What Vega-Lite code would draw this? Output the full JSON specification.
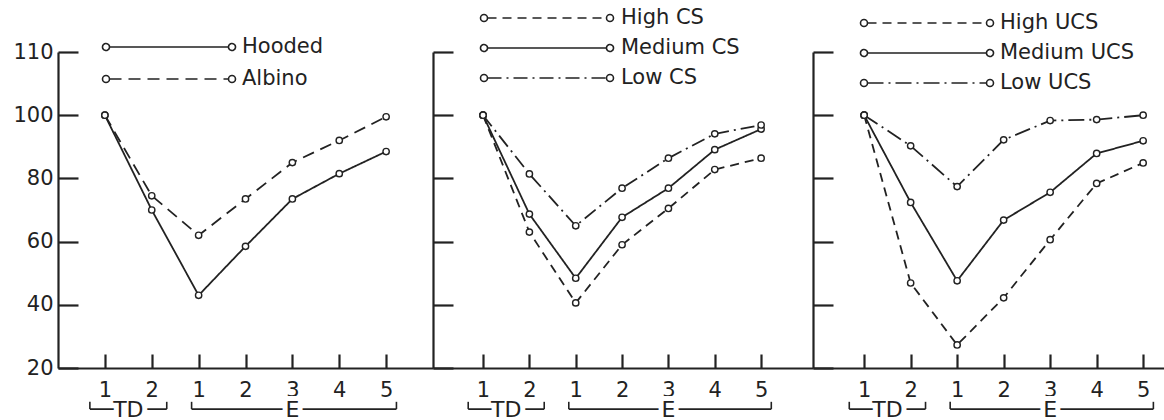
{
  "$schema": "https://vega.github.io/schema/vega-lite/v6.json",
  "padding": {"left": 12, "top": 7, "right": 0, "bottom": 0},
  "spacing": 0,
  "bounds": "flush",
  "resolve": {"scale": {"strokeDash": "independent", "x": "independent", "y": "independent"}, "legend": {"strokeDash": "independent"}},
  "config": {
    "view": {"stroke": null},
    "font": "DejaVu Sans",
    "axis": {"grid": false, "domainColor": "#222", "domainWidth": 2.2, "tickColor": "#222", "tickWidth": 2.2, "labelColor": "#222", "labelFont": "DejaVu Sans", "labelFontSize": 21},
    "legend": {
      "orient": "none", "title": null, "padding": 0,
      "symbolType": "M-6.65,0A0.35,0.35 0 0,1 -6.3,-0.35M-6.3,-0.35A0.35,0.35 0 0,1 -5.95,0M-5.95,0A0.35,0.35 0 0,1 -6.3,0.35M-6.3,0.35A0.35,0.35 0 0,1 -6.65,0M5.95,0A0.35,0.35 0 0,1 6.3,-0.35M6.3,-0.35A0.35,0.35 0 0,1 6.65,0M6.65,0A0.35,0.35 0 0,1 6.3,0.35M6.3,0.35A0.35,0.35 0 0,1 5.95,0M-5.95,0L5.95,0",
      "symbolSize": 400, "symbolStrokeWidth": 1.6, "symbolStrokeColor": "#222", "symbolFillColor": "white",
      "labelFont": "DejaVu Sans", "labelFontSize": 21, "labelColor": "#222", "labelOffset": 62
    }
  },
  "datasets": {
    "curves": [
      {"panel": "A", "series": "Hooded", "pos": 1, "value": 100},
      {"panel": "A", "series": "Hooded", "pos": 2, "value": 70},
      {"panel": "A", "series": "Hooded", "pos": 3, "value": 43},
      {"panel": "A", "series": "Hooded", "pos": 4, "value": 58.5},
      {"panel": "A", "series": "Hooded", "pos": 5, "value": 73.5},
      {"panel": "A", "series": "Hooded", "pos": 6, "value": 81.5},
      {"panel": "A", "series": "Hooded", "pos": 7, "value": 88.5},
      {"panel": "A", "series": "Albino", "pos": 1, "value": 100},
      {"panel": "A", "series": "Albino", "pos": 2, "value": 74.5},
      {"panel": "A", "series": "Albino", "pos": 3, "value": 62},
      {"panel": "A", "series": "Albino", "pos": 4, "value": 73.5},
      {"panel": "A", "series": "Albino", "pos": 5, "value": 85},
      {"panel": "A", "series": "Albino", "pos": 6, "value": 92},
      {"panel": "A", "series": "Albino", "pos": 7, "value": 99.5},
      {"panel": "B", "series": "High CS", "pos": 1, "value": 100},
      {"panel": "B", "series": "High CS", "pos": 2, "value": 63},
      {"panel": "B", "series": "High CS", "pos": 3, "value": 40.6},
      {"panel": "B", "series": "High CS", "pos": 4, "value": 59},
      {"panel": "B", "series": "High CS", "pos": 5, "value": 70.5},
      {"panel": "B", "series": "High CS", "pos": 6, "value": 82.8},
      {"panel": "B", "series": "High CS", "pos": 7, "value": 86.4},
      {"panel": "B", "series": "Medium CS", "pos": 1, "value": 100},
      {"panel": "B", "series": "Medium CS", "pos": 2, "value": 68.7},
      {"panel": "B", "series": "Medium CS", "pos": 3, "value": 48.4},
      {"panel": "B", "series": "Medium CS", "pos": 4, "value": 67.7},
      {"panel": "B", "series": "Medium CS", "pos": 5, "value": 76.9},
      {"panel": "B", "series": "Medium CS", "pos": 6, "value": 89.1},
      {"panel": "B", "series": "Medium CS", "pos": 7, "value": 95.6},
      {"panel": "B", "series": "Low CS", "pos": 1, "value": 100},
      {"panel": "B", "series": "Low CS", "pos": 2, "value": 81.4},
      {"panel": "B", "series": "Low CS", "pos": 3, "value": 65},
      {"panel": "B", "series": "Low CS", "pos": 4, "value": 76.9},
      {"panel": "B", "series": "Low CS", "pos": 5, "value": 86.4},
      {"panel": "B", "series": "Low CS", "pos": 6, "value": 94.1},
      {"panel": "B", "series": "Low CS", "pos": 7, "value": 96.9},
      {"panel": "C", "series": "High UCS", "pos": 1, "value": 100},
      {"panel": "C", "series": "High UCS", "pos": 2, "value": 46.9},
      {"panel": "C", "series": "High UCS", "pos": 3, "value": 27.3},
      {"panel": "C", "series": "High UCS", "pos": 4, "value": 42.2},
      {"panel": "C", "series": "High UCS", "pos": 5, "value": 60.6},
      {"panel": "C", "series": "High UCS", "pos": 6, "value": 78.4},
      {"panel": "C", "series": "High UCS", "pos": 7, "value": 84.9},
      {"panel": "C", "series": "Medium UCS", "pos": 1, "value": 100},
      {"panel": "C", "series": "Medium UCS", "pos": 2, "value": 72.4},
      {"panel": "C", "series": "Medium UCS", "pos": 3, "value": 47.6},
      {"panel": "C", "series": "Medium UCS", "pos": 4, "value": 66.8},
      {"panel": "C", "series": "Medium UCS", "pos": 5, "value": 75.6},
      {"panel": "C", "series": "Medium UCS", "pos": 6, "value": 87.9},
      {"panel": "C", "series": "Medium UCS", "pos": 7, "value": 91.9},
      {"panel": "C", "series": "Low UCS", "pos": 1, "value": 100},
      {"panel": "C", "series": "Low UCS", "pos": 2, "value": 90.3},
      {"panel": "C", "series": "Low UCS", "pos": 3, "value": 77.4},
      {"panel": "C", "series": "Low UCS", "pos": 4, "value": 92.2},
      {"panel": "C", "series": "Low UCS", "pos": 5, "value": 98.3},
      {"panel": "C", "series": "Low UCS", "pos": 6, "value": 98.6},
      {"panel": "C", "series": "Low UCS", "pos": 7, "value": 100}
    ],
    "brackets": [
      {"group": "TD", "start": 0.68, "end": 2.32, "mid": 1.5},
      {"group": "E", "start": 2.85, "end": 7.22, "mid": 5}
    ]
  },
  "hconcat": [
    {
      "width": 375, "height": 316,
      "layer": [
        {
          "data": {"name": "curves"}, "transform": [{"filter": "datum.panel == 'A'"}],
          "mark": {"type": "line", "stroke": "#222", "strokeWidth": 1.8},
          "encoding": {
            "x": {"field": "pos", "type": "quantitative", "scale": {"domain": [0, 8], "nice": false, "zero": false},
                  "axis": {"title": null, "values": [1, 2, 3, 4, 5, 6, 7], "tickSize": -14, "labelPadding": 25, "labelExpr": "datum.value <= 2 ? datum.value : datum.value - 2"}},
            "y": {"field": "value", "type": "quantitative", "scale": {"domain": [20, 120], "nice": false, "zero": false},
                  "axis": {"title": null, "values": [20, 30, 40, 50, 60, 70, 80, 90, 100, 110, 120], "tickSize": -20, "labelPadding": 25, "labelExpr": "datum.value == 120 ? '110' : (datum.value % 20 == 0 ? datum.label : '')"}},
            "strokeDash": {"field": "series", "type": "nominal", "scale": {"domain": ["Hooded", "Albino"], "range": [[1, 0], [12, 7]]},
                           "legend": {"legendX": 100, "legendY": -16, "rowPadding": 11}}
          }
        },
        {
          "data": {"name": "curves"}, "transform": [{"filter": "datum.panel == 'A'"}],
          "mark": {"type": "point", "shape": "circle", "filled": true, "fill": "white", "stroke": "#222", "strokeWidth": 1.4, "size": 40, "opacity": 1},
          "encoding": {"x": {"field": "pos", "type": "quantitative"}, "y": {"field": "value", "type": "quantitative"}, "detail": {"field": "series"}}
        },
        {
          "data": {"name": "brackets"},
          "mark": {"type": "rule", "stroke": "#222", "strokeWidth": 1.6},
          "encoding": {"x": {"field": "start", "type": "quantitative"}, "x2": {"field": "end"}, "y": {"datum": 7}}
        },
        {
          "data": {"name": "brackets"},
          "mark": {"type": "rule", "stroke": "#222", "strokeWidth": 1.6},
          "encoding": {"x": {"field": "start", "type": "quantitative"}, "y": {"datum": 7}, "y2": {"datum": 9.3}}
        },
        {
          "data": {"name": "brackets"},
          "mark": {"type": "rule", "stroke": "#222", "strokeWidth": 1.6},
          "encoding": {"x": {"field": "end", "type": "quantitative"}, "y": {"datum": 7}, "y2": {"datum": 9.3}}
        },
        {
          "data": {"name": "brackets"},
          "mark": {"type": "text", "fontSize": 22, "baseline": "middle", "font": "DejaVu Sans", "fill": "white", "stroke": "white", "strokeWidth": 10, "strokeJoin": "round"},
          "encoding": {"x": {"field": "mid", "type": "quantitative"}, "y": {"datum": 6.8}, "text": {"field": "group"}}
        },
        {
          "data": {"name": "brackets"},
          "mark": {"type": "text", "fontSize": 22, "baseline": "middle", "font": "DejaVu Sans", "fill": "#222"},
          "encoding": {"x": {"field": "mid", "type": "quantitative"}, "y": {"datum": 6.8}, "text": {"field": "group"}}
        }
      ]
    },
    {
      "width": 380, "height": 316,
      "layer": [
        {
          "data": {"name": "curves"}, "transform": [{"filter": "datum.panel == 'B'"}],
          "mark": {"type": "line", "stroke": "#222", "strokeWidth": 1.8},
          "encoding": {
            "x": {"field": "pos", "type": "quantitative", "scale": {"domain": [-0.08, 8.12], "nice": false, "zero": false},
                  "axis": {"title": null, "values": [1, 2, 3, 4, 5, 6, 7], "tickSize": -14, "labelPadding": 25, "labelExpr": "datum.value <= 2 ? datum.value : datum.value - 2"}},
            "y": {"field": "value", "type": "quantitative", "scale": {"domain": [20, 120], "nice": false, "zero": false},
                  "axis": {"title": null, "values": [20, 30, 40, 50, 60, 70, 80, 90, 100, 110, 120], "tickSize": -20, "labels": false}},
            "strokeDash": {"field": "series", "type": "nominal", "scale": {"domain": ["High CS", "Medium CS", "Low CS"], "range": [[9, 6], [1, 0], [14, 5, 2, 5]]},
                           "legend": {"legendX": 103, "legendY": -45, "rowPadding": 9, "labelOffset": 63}}
          }
        },
        {
          "data": {"name": "curves"}, "transform": [{"filter": "datum.panel == 'B'"}],
          "mark": {"type": "point", "shape": "circle", "filled": true, "fill": "white", "stroke": "#222", "strokeWidth": 1.4, "size": 40, "opacity": 1},
          "encoding": {"x": {"field": "pos", "type": "quantitative"}, "y": {"field": "value", "type": "quantitative"}, "detail": {"field": "series"}}
        },
        {
          "data": {"name": "brackets"},
          "mark": {"type": "rule", "stroke": "#222", "strokeWidth": 1.6},
          "encoding": {"x": {"field": "start", "type": "quantitative"}, "x2": {"field": "end"}, "y": {"datum": 7}}
        },
        {
          "data": {"name": "brackets"},
          "mark": {"type": "rule", "stroke": "#222", "strokeWidth": 1.6},
          "encoding": {"x": {"field": "start", "type": "quantitative"}, "y": {"datum": 7}, "y2": {"datum": 9.3}}
        },
        {
          "data": {"name": "brackets"},
          "mark": {"type": "rule", "stroke": "#222", "strokeWidth": 1.6},
          "encoding": {"x": {"field": "end", "type": "quantitative"}, "y": {"datum": 7}, "y2": {"datum": 9.3}}
        },
        {
          "data": {"name": "brackets"},
          "mark": {"type": "text", "fontSize": 22, "baseline": "middle", "font": "DejaVu Sans", "fill": "white", "stroke": "white", "strokeWidth": 10, "strokeJoin": "round"},
          "encoding": {"x": {"field": "mid", "type": "quantitative"}, "y": {"datum": 6.8}, "text": {"field": "group"}}
        },
        {
          "data": {"name": "brackets"},
          "mark": {"type": "text", "fontSize": 22, "baseline": "middle", "font": "DejaVu Sans", "fill": "#222"},
          "encoding": {"x": {"field": "mid", "type": "quantitative"}, "y": {"datum": 6.8}, "text": {"field": "group"}}
        }
      ]
    },
    {
      "width": 352, "height": 316,
      "layer": [
        {
          "data": {"name": "curves"}, "transform": [{"filter": "datum.panel == 'C'"}],
          "mark": {"type": "line", "stroke": "#222", "strokeWidth": 1.8},
          "encoding": {
            "x": {"field": "pos", "type": "quantitative", "scale": {"domain": [-0.1, 7.47], "nice": false, "zero": false},
                  "axis": {"title": null, "values": [1, 2, 3, 4, 5, 6, 7], "tickSize": -14, "labelPadding": 25, "labelExpr": "datum.value <= 2 ? datum.value : datum.value - 2"}},
            "y": {"field": "value", "type": "quantitative", "scale": {"domain": [20, 120], "nice": false, "zero": false},
                  "axis": {"title": null, "values": [20, 30, 40, 50, 60, 70, 80, 90, 100, 110, 120], "tickSize": -20, "labels": false}},
            "strokeDash": {"field": "series", "type": "nominal", "scale": {"domain": ["High UCS", "Medium UCS", "Low UCS"], "range": [[9, 6], [1, 0], [16, 5, 2, 5]]},
                           "legend": {"legendX": 103, "legendY": -40, "rowPadding": 9, "labelOffset": 62}}
          }
        },
        {
          "data": {"name": "curves"}, "transform": [{"filter": "datum.panel == 'C'"}],
          "mark": {"type": "point", "shape": "circle", "filled": true, "fill": "white", "stroke": "#222", "strokeWidth": 1.4, "size": 40, "opacity": 1},
          "encoding": {"x": {"field": "pos", "type": "quantitative"}, "y": {"field": "value", "type": "quantitative"}, "detail": {"field": "series"}}
        },
        {
          "data": {"name": "brackets"},
          "mark": {"type": "rule", "stroke": "#222", "strokeWidth": 1.6},
          "encoding": {"x": {"field": "start", "type": "quantitative"}, "x2": {"field": "end"}, "y": {"datum": 7}}
        },
        {
          "data": {"name": "brackets"},
          "mark": {"type": "rule", "stroke": "#222", "strokeWidth": 1.6},
          "encoding": {"x": {"field": "start", "type": "quantitative"}, "y": {"datum": 7}, "y2": {"datum": 9.3}}
        },
        {
          "data": {"name": "brackets"},
          "mark": {"type": "rule", "stroke": "#222", "strokeWidth": 1.6},
          "encoding": {"x": {"field": "end", "type": "quantitative"}, "y": {"datum": 7}, "y2": {"datum": 9.3}}
        },
        {
          "data": {"name": "brackets"},
          "mark": {"type": "text", "fontSize": 22, "baseline": "middle", "font": "DejaVu Sans", "fill": "white", "stroke": "white", "strokeWidth": 10, "strokeJoin": "round"},
          "encoding": {"x": {"field": "mid", "type": "quantitative"}, "y": {"datum": 6.8}, "text": {"field": "group"}}
        },
        {
          "data": {"name": "brackets"},
          "mark": {"type": "text", "fontSize": 22, "baseline": "middle", "font": "DejaVu Sans", "fill": "#222"},
          "encoding": {"x": {"field": "mid", "type": "quantitative"}, "y": {"datum": 6.8}, "text": {"field": "group"}}
        }
      ]
    }
  ]
}
